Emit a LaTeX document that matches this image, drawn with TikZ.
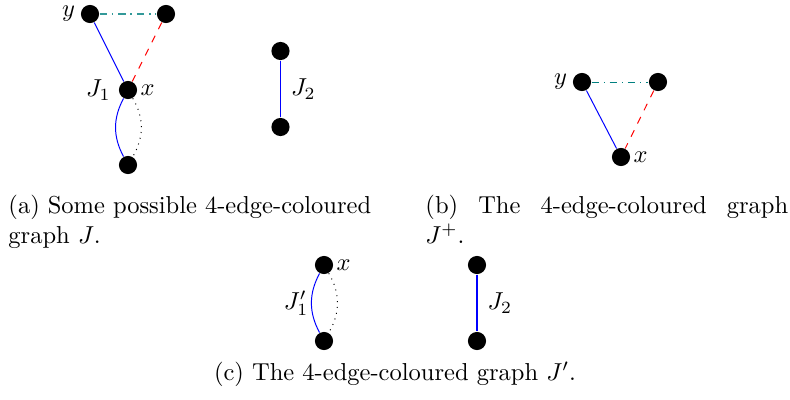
\documentclass[tikz,border=0pt]{standalone}
\usepackage{amsmath, amssymb}
\usepackage{tikz}

\tikzset{
  vtx/.style={circle, fill=black, inner sep=0pt, minimum size=7.4pt},
  lbl/.style={text=black, inner sep=1pt},
  capt/.style={inner sep=0pt, text width=148pt, align=justify},
}

\begin{document}
\begin{tikzpicture}[x=0.408pt, y=-0.408pt]
  \useasboundingbox (0,0) rectangle (790,399);
  % (a) the graph J
  \node[vtx, label={[lbl, inner sep=2pt]left:$y$}] (ya) at (90,14) {};
  \node[vtx] (ra) at (166,14) {};
  \node[vtx, label={[lbl]right:$x$}, label={[lbl, inner sep=3pt]left:$J_1$}] (xa) at (128,90) {};
  \node[vtx] (ba) at (128,165) {};
  \draw[teal!80, semithick, dash dot] (ya) -- (ra);
  \draw[red, dashed] (ra) -- (xa);
  \draw[blue] (ya) -- (xa);
  \draw[blue] (xa) to[bend right=28] (ba);
  \draw[dotted] (xa) to[bend left=30] (ba);
  \node[vtx] (pa) at (280.5,51) {};
  \node[vtx] (qa) at (280.5,127) {};
  \draw[blue, line width=0.6pt] (pa) -- node[lbl, right, xshift=3pt] {$J_2$} (qa);
  \node[capt, anchor=north west] (capa) at (8,195)
    {(a) Some possible 4-edge-coloured graph $J$.};
  % (b) the graph J+
  \node[vtx, label={[lbl, inner sep=2pt]left:$y$}] (yb) at (582,82) {};
  \node[vtx] (rb) at (658,82) {};
  \node[vtx, label={[lbl]right:$x$}] (xb) at (621,157) {};
  \draw[teal, dash dot] (yb) -- (rb);
  \draw[red, dashed] (rb) -- (xb);
  \draw[blue] (yb) -- (xb);
  \node[capt, anchor=north west] (capb) at (425,195)
    {(b) The 4-edge-coloured graph $J^+$.};
  % (c) the graph J'
  \node[vtx, label={[lbl]right:$x$}] (xc) at (324,265) {};
  \node[vtx] (bc) at (324,341) {};
  \draw[blue] (xc) to[bend right=28] node[lbl, left] {$J_1'$} (bc);
  \draw[dotted] (xc) to[bend left=30] (bc);
  \node[vtx] (pc) at (477,265) {};
  \node[vtx] (qc) at (477,341) {};
  \draw[blue, line width=0.6pt] (pc) -- node[lbl, right, xshift=3pt] {$J_2$} (qc);
  \node[anchor=base] (capc) at (395,380) {(c) The 4-edge-coloured graph $J'$.};
\end{tikzpicture}
\end{document}
